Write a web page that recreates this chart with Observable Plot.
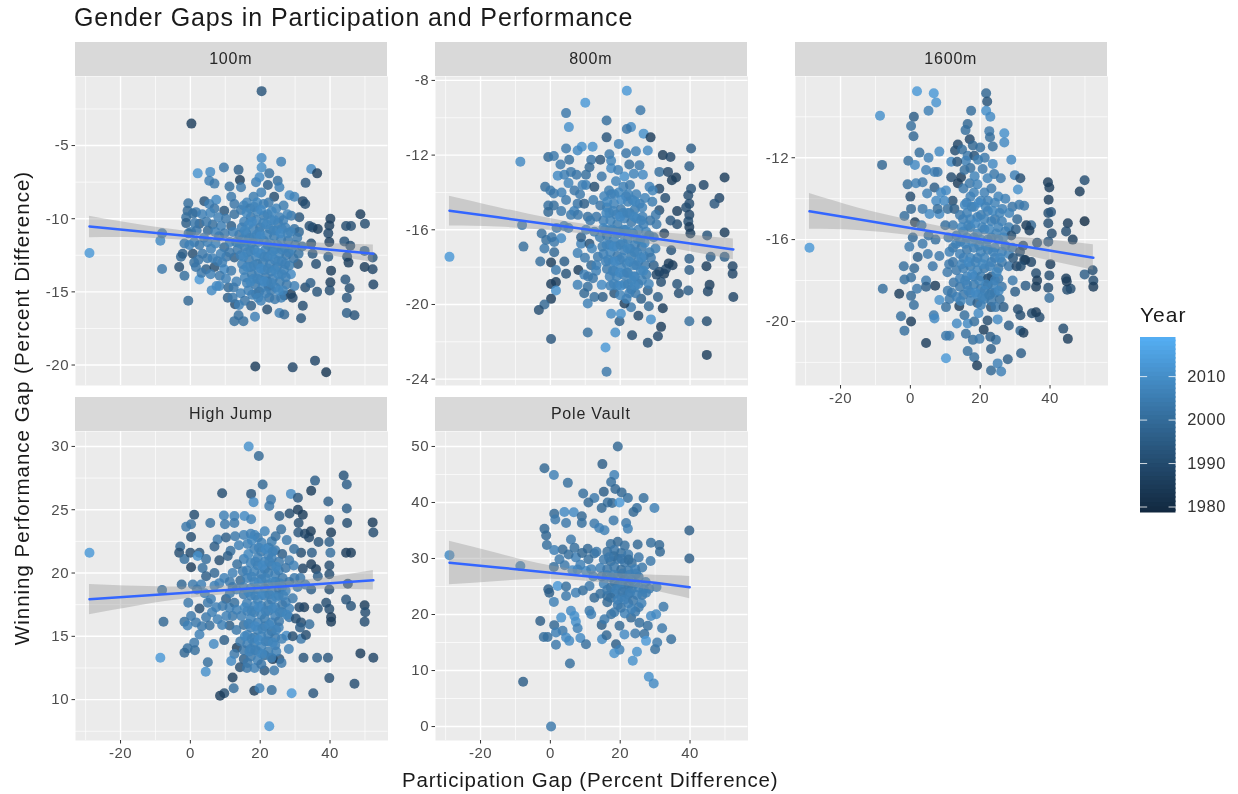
<!DOCTYPE html>
<html><head><meta charset="utf-8">
<style>
html,body{margin:0;padding:0;background:#fff;}
#chart{position:relative;width:1238px;height:794px;overflow:hidden;font-family:"Liberation Sans",Arial,sans-serif;background:#fff;filter:blur(.45px);}
#chart svg{position:absolute;background:transparent;}
.strip{position:absolute;background:#D9D9D9;color:#262626;font-size:16px;letter-spacing:.8px;text-align:center;width:312.5px;height:34px;line-height:33px;}
.t{position:absolute;white-space:nowrap;color:#1a1a1a;}
</style>
<script src="https://cdn.jsdelivr.net/npm/d3@7"></script>
<script src="https://cdn.jsdelivr.net/npm/@observablehq/plot@0.6"></script>
</head><body><div id="chart"></div>
<script>
const title="Gender Gaps in Participation and Performance";
const xLabel="Participation Gap (Percent Difference)";
const yLabel="Winning Performance Gap (Percent Difference)";
const xTicks=[-20,0,20,40], xMinor=[-30,-10,10,30,50];

// [participation gap, performance gap, year]
const pts100=[[20.4,-1.28,1992],[.3,-3.5,1985],[-28.9,-12.34,2012],[-8.1,-13.44,2003],[-8.6,-11.5,2008],[-8.1,-11,2003],[-.6,-15.6,1998],[18.6,-20.1,1985],[29.3,-20.16,1988],[35.7,-19.7,1988],[38.9,-20.5,1983],[20.4,-5.85,2008],[26,-6.1,2005],[9.6,-6.5,2002],[13.8,-6.66,1995],[2.1,-6.9,2011],[5.7,-6.8,2008],[14.2,-7.35,1985],[20.4,-6.5,2009],[22.6,-6.9,2000],[5.4,-7.4,2005],[6.9,-7.6,2003],[11.2,-7.8,2000],[34.6,-6.6,2008],[36.3,-6.9,1985],[33,-7.55,1993],[25,-7.4,2000],[22.2,-7.7,1995],[14.5,-7.85,2003],[18.8,-7.5,2005],[19.8,-7.17,2008],[25.5,-7.85,2005],[24,-8.5,1990],[28.4,-8.4,2008],[29.8,-8.5,2006],[32.2,-8.8,1988],[32.9,-9,1990],[11.7,-8.5,2003],[12.6,-9,2002],[7.4,-8.7,2008],[4,-8.8,1992],[5.4,-9,2005],[-.6,-8.95,2000],[-.8,-9.45,1998],[1.6,-9.55,2003],[9.7,-9.45,1992],[6.9,-9.3,2002],[-1.2,-9.9,2000],[.7,-9.65,2000],[-1.2,-10.3,1995],[2.6,-10.35,1995],[5,-10.8,1998],[8.8,-10.5,2005],[11.7,-10.5,1995],[12.6,-9.7,2000],[31.2,-9.9,1992],[40.1,-10,1985],[39.8,-10.47,1985],[39.5,-11,1988],[39.8,-11.6,1985],[35,-10.6,1988],[36.5,-10.7,1985],[34.1,-10.5,1990],[34.6,-11.7,1990],[35,-12.4,1993],[36,-13.1,1990],[39.5,-12.6,1995],[40.3,-13.55,1985],[40.1,-14.35,1985],[39.9,-14.9,1990],[44.1,-11.55,1992],[45.8,-11.85,1990],[44.6,-10.5,1990],[46,-10.5,1990],[48.7,-9.7,1985],[50,-10.35,1990],[49.9,-12.2,1995],[52.2,-12.65,1992],[44.9,-12.6,1990],[45.3,-13,1985],[49.9,-13.3,1985],[52.2,-13.45,1988],[52.4,-14.5,1988],[44.4,-14.15,1993],[45.6,-14.75,1990],[44.8,-15.4,1993],[44.8,-16.45,1995],[47,-16.6,1992],[32.9,-14.7,1990],[34.4,-14.4,1995],[36.3,-15,1992],[32.2,-15.95,1990],[31.7,-16.8,1992],[12.6,-17,2000],[13.8,-16.6,2000],[15.2,-17,2000],[18.5,-16.7,2005],[25.5,-16.45,2005],[26.9,-16.55,1998],[22,-16.2,1990],[17.4,-15.95,1995],[12.8,-15.85,1990],[10.7,-15.4,1995],[12.1,-15.4,2003],[6.1,-14.9,2008],[8.3,-14.6,2006],[10.9,-14.7,1998],[2.6,-14.15,2012],[-1.7,-13.9,2000],[-3.2,-13.3,1990],[-2.7,-12.6,1998],[-2.2,-12.4,1995],[.7,-12.4,1990],[1.1,-13,2000],[1.6,-13.3,2002],[4.5,-13.45,1995],[6.9,-13.3,1990],[9.7,-13.45,2008],[7.8,-12.9,2003],[3.5,-12.4,2003],[-1.7,-11.7,2003],[1.1,-11.6,2005],[5.9,-12.05,2005],[9.7,-11.95,1998],[12.6,-12.65,1995],[11.7,-13.55,2003],[28.8,-15.15,1985],[29.3,-15.4,1988],[26.9,-15.25,1990],[26,-15.4,2005],[22.6,-15.4,2002],[23.1,-14.9,2003],[20.2,-15.6,2005],[18.8,-15.15,1998],[30.8,-13.1,1992],[29.8,-14.6,2005],[28.8,-13.8,2008],
[14.5,-9.4,2003],[16.2,-8.9,2006],[18.1,-8.5,2004],[20.3,-8.2,2005],[22.4,-8.9,2003],[24.6,-9.3,2006],[26.7,-9.1,2004],[28.9,-9.8,2002],[15.4,-10.2,2005],[17.3,-9.9,2003],[19.2,-9.5,2006],[21.1,-9.8,2004],[23.2,-10.1,2005],[25.1,-10.3,2003],[27.2,-10.6,2005],[29.8,-10.7,2000],[31.1,-10.9,1998],[14,-11.1,2002],[16,-11,2006],[18,-10.7,2005],[20,-10.6,2003],[22,-11.1,2006],[24,-11.2,2004],[26,-11.4,2005],[28,-11.5,2003],[30,-11.8,2002],[32,-11.9,2000],[13.5,-12.1,2003],[15.5,-11.9,2005],[17.5,-11.7,2004],[19.5,-11.6,2006],[21.5,-12.1,2005],[23.5,-12.2,2004],[25.5,-12.4,2006],[27.5,-12.5,2003],[29.5,-12.7,2002],[14.8,-13.1,2005],[16.8,-12.8,2003],[18.8,-12.6,2006],[20.8,-13,2004],[22.8,-13.1,2005],[24.8,-13.3,2003],[26.8,-13.5,2005],[15.6,-14,2006],[17.6,-13.8,2004],[19.6,-13.6,2005],[21.6,-14,2003],[23.6,-14.1,2005],[25.6,-14.3,2004],[27.6,-14.5,2003],[16.6,-14.9,2005],[18.6,-14.5,2003],[20.6,-14.7,2006],[22.4,-14.6,2002],[13.2,-14.3,2005],[12.2,-10.9,2005],[10.3,-12.6,2002],[8.2,-11.2,2003],[6.4,-10.4,2000],[3.9,-11.3,2005],[.2,-10.9,2003],
[15.3,-9.1,2006],[17.1,-9.3,2004],[19.1,-8.9,2007],[21,-9,2005],[23.3,-9.5,2007],[25.5,-9.9,2005],[27.8,-9.7,2006],[14.7,-10.6,2005],[16.7,-10.4,2007],[18.9,-10.1,2005],[20.9,-10.3,2006],[22.8,-10.7,2004],[24.7,-10.8,2007],[26.6,-10.1,2005],[28.7,-10.9,2006],[30.6,-11.3,2003],[13.1,-11.6,2004],[15,-11.4,2006],[16.9,-11.3,2005],[19,-11.1,2007],[21,-11.5,2005],[23,-11.7,2006],[24.9,-11.8,2005],[27,-12,2004],[29,-12.1,2006],[31,-12.4,2001],[14.4,-12.5,2005],[16.3,-12.3,2006],[18.3,-12.1,2005],[20.2,-12.4,2007],[22.1,-12.6,2005],[24.2,-12.8,2006],[26.2,-12.9,2005],[28.3,-13.2,2004],[15.3,-13.5,2006],[17.2,-13.3,2005],[19.2,-13.1,2004],[21.2,-13.5,2006],[23.2,-13.6,2005],[25.2,-13.8,2007],[27.3,-14,2005],[16.2,-14.4,2005],[18.1,-14.1,2006],[20.1,-14.2,2005],[22,-14.3,2003],[24.4,-14.7,2005],[26.5,-14.9,2006],[17.7,-15.2,2005],[19.7,-15,2003],[21.6,-15.1,2005],[24.2,-15.5,2003],[1.2,-10.3,2003],[3.4,-9.7,2005],[5.7,-9.6,2006],[8,-9.9,2005],[10.2,-10,2003],[-.5,-11,2000],[1.8,-10.8,2002],[4.6,-10.2,2003],[7.1,-10.9,2005],[9.8,-11,2003],[11.3,-11.6,2005],[-.3,-11.8,2005],[2.6,-11.8,2003],[4.9,-11.6,2005],[7.2,-11.7,2006],[8.7,-12.4,2005],[11.2,-12.3,2003],[2.3,-12.8,2002],[4.9,-12.7,2003],[6.4,-12.7,2005],[9.1,-13,2005],[3.2,-13.7,2003],[5.8,-13.8,2005],[8.4,-13.9,2003],[10.2,-14.1,2005],[12.4,-14.7,2003],[14.4,-15.1,2005],[15.6,-15.6,2002],[13.9,-15.9,2005],[7.5,-14.6,2008],
[16.1,-9.6,2007],[18.3,-9.2,2006],[20.2,-9.4,2008],[22.1,-9.7,2006],[24.1,-10.1,2007],[26.2,-10.7,2006],[15.6,-10.8,2007],[17.6,-10.2,2008],[19.8,-10.9,2006],[21.8,-10.4,2007],[23.8,-10.8,2006],[25.8,-11,2008],[27.9,-11,2006],[14.2,-11.7,2006],[16.2,-11.6,2007],[18.2,-11.3,2006],[20.1,-11.2,2008],[22.2,-11.8,2006],[24.2,-12.1,2007],[26.2,-12.1,2006],[28.2,-12.3,2005],[15.2,-12.6,2007],[17.2,-12.2,2006],[19.3,-12.3,2008],[21.2,-12.6,2006],[23.2,-12.5,2007],[25.2,-12.9,2006],[27.2,-13.1,2005],[16.2,-13.3,2007],[18.2,-13.2,2006],[20.2,-13.4,2008],[22.2,-13.4,2006],[24.2,-13.5,2007],[26.2,-13.8,2006],[17.2,-14.3,2007],[19.2,-14.1,2006],[21.2,-14.3,2008],[23.2,-14.4,2006],[25.3,-14.9,2007],[19.4,-15.4,2006]];

const pts800=[[21.9,-8.55,2012],[10,-9.2,2012],[4.5,-9.75,2003],[25.8,-9.6,2003],[16.1,-10.15,2000],[5.3,-10.5,2010],[23.1,-10.5,2008],[21.9,-10.6,2002],[16.1,-11.05,1992],[26.7,-10.85,2010],[28.7,-11.05,1985],[40.3,-11.65,1995],[4.5,-11.65,2003],[9,-11.55,2010],[12.1,-11.55,2010],[7.8,-11.75,2008],[19.6,-11.4,2005],[27.9,-11.75,2008],[24.5,-11.8,2005],[21.7,-11.9,2002],[16.9,-11.95,2003],[32.2,-12,1985],[34.4,-12.1,1988],[-8.6,-12.35,2008],[-.6,-12.1,1998],[1,-12.05,2003],[2.9,-12.5,2003],[5.4,-12.25,2000],[39.8,-12.6,1995],[25.5,-12.55,2003],[22.6,-12.5,2000],[11.7,-12.25,2002],[14.3,-12.25,1993],[11.2,-12.65,1998],[17.4,-12.7,2008],[2.1,-13.1,2008],[4,-13.05,2005],[5.9,-12.9,2003],[7.5,-13.05,2002],[10.2,-13.05,2000],[14.7,-13.15,2002],[21.2,-13.15,2010],[26.5,-13.05,2008],[31.2,-12.9,2000],[33.7,-12.9,1988],[36,-13.2,1985],[34.8,-13.35,1985],[49.9,-13.2,1985],[43.9,-13.6,1988],[40.3,-13.8,1992],[-1.5,-13.7,2000],[0,-13.9,2003],[1,-14.05,2003],[6.9,-13.9,2002],[10.2,-13.6,2005],[12.6,-13.7,1990],[31.2,-13.8,1988],[32.9,-14.3,1990],[39.5,-14.15,1990],[48.4,-14.3,1988],[47,-14.6,1993],[39.8,-14.6,1990],[38.9,-14.8,1990],[31.2,-14.95,1990],[36.3,-15,1985],[4.5,-14.4,2003],[7.8,-14.6,2002],[9.7,-14.6,1995],[-.6,-14.7,2000],[1,-14.7,2000],[-.6,-15.05,1998],[3.1,-15,2003],[5.9,-15.2,2003],[10.7,-15.3,2000],[39.8,-15.2,1988],[39.5,-15.55,1990],[39.8,-15.85,1985],[40.1,-16.2,1985],[36.3,-15.7,1990],[34.4,-15.5,1993],[32.6,-16.2,1985],[44.9,-16.3,1992],[49.9,-16.15,1985],[-8.1,-15.75,2003],[-7.7,-16.9,2000],[-28.9,-17.45,2012],[-2.5,-16.2,2000],[-1.2,-16.55,2000],[1.1,-16.65,2003],[3.1,-16.45,2008],[-1.7,-17,2003],[1.1,-17.2,1998],[-2.9,-17.7,2000],[.2,-17.75,1985],[4,-17.7,1995],[1.6,-18.15,2003],[4.5,-18.35,1992],[1.6,-18.8,1985],[.2,-18.9,1985],[1.6,-19.25,2010],[.2,-19.7,1985],[-1.7,-20,1998],[-3.3,-20.3,1990],[.2,-21.85,1993],[10.7,-21.5,2000],[15.8,-22.3,2012],[18.6,-21.5,2010],[16.1,-23.6,2003],[23.4,-21.65,1990],[27.9,-22.05,1990],[30.8,-21.7,1988],[31.7,-21.2,1985],[28.8,-20.8,2010],[25.2,-20.6,1988],[19.8,-20.9,1995],[17.4,-20.5,2008],[20.2,-20.5,2010],[32.2,-20.2,1985],[28.2,-20.1,1998],[23.1,-20.15,2003],[21.2,-19.95,1985],[39.8,-20.9,2000],[44.8,-20.9,1990],[44.8,-22.7,1985],[52.4,-19.6,1988],[52.2,-18.35,1988],[52.2,-17.95,1988],[49.9,-17.45,1995],[45.9,-17.45,1995],[44.7,-17.95,1985],[45.6,-18.95,1985],[45.1,-19.3,1988],[39.5,-19.25,1995],[39.8,-18.15,1995],[39.8,-17.55,1995],[36.8,-19.4,1990],[36.3,-18.9,1992],[34.6,-17.1,1992],[35,-17.9,1985],[32.6,-18.35,1985],[31.2,-18.25,1988],[30.8,-19.6,1995],[27.9,-19.25,1995],[26,-19.7,1995],[10.7,-19.95,2005],[12.6,-19.6,2000],[15,-19.6,1995],[18.3,-19.4,1992],[7.8,-18.95,2005],[10.7,-19.05,2000],[14.7,-18.95,2008],[9.7,-19.4,1998],[8,-18.15,1985],[11.7,-17.9,1998],[7.8,-17.25,2005],[8.8,-16.75,2005],[8.8,-16.4,1995],[11.2,-16.75,1992],[13.6,-17.45,2003],
[16.8,-13.9,2004],[18.8,-13.4,2006],[20.9,-13.7,2005],[22.8,-13.6,2003],[24.6,-14.1,2005],[27.1,-14.3,2006],[29.2,-14.5,2004],[14.3,-14.7,2002],[16.2,-14.8,2004],[18.2,-14.6,2006],[20.2,-14.9,2003],[22.2,-14.5,2005],[24.2,-14.9,2004],[26.4,-15.3,2005],[28.6,-15.5,2002],[30.4,-15.7,2003],[15.2,-15.5,2005],[17.2,-15.5,2006],[19.2,-15.7,2004],[21.2,-15.4,2005],[23.2,-15.6,2003],[25.2,-16,2005],[27.4,-16.1,2006],[29.6,-16.4,2002],[14.2,-16.4,2004],[16.2,-16.3,2003],[18.2,-16.5,2005],[20.2,-16.2,2006],[22.2,-16.5,2004],[24.2,-16.8,2005],[26.2,-16.9,2003],[28.4,-17.2,2004],[15.2,-17.3,2005],[17.2,-17.2,2006],[19.2,-17.4,2003],[21.2,-17.1,2005],[23.2,-17.4,2004],[25.2,-17.7,2005],[27.2,-17.9,2003],[29.6,-17.9,1995],[16.2,-18.1,2003],[18.2,-18.2,2005],[20.2,-18,2006],[22.2,-18.3,2004],[24.2,-18.5,2005],[26.2,-18.7,2006],[17.2,-19,2005],[19.2,-19,2006],[21.2,-18.9,2004],[23.2,-19.2,2003],[21.8,-19.7,2005],[24.4,-19.4,2003],[28.2,-18.9,2006],[13.2,-15.3,2002],[12.3,-14.4,2004],[13.1,-18.2,2005],[12.2,-18.6,2002],[9.9,-17.5,2003],[30.1,-17,2004],
[15.4,-14.2,2006],[17.4,-14.1,2005],[19.6,-14,2007],[21.7,-14.2,2005],[23.5,-14.4,2006],[25.6,-14.6,2005],[16.9,-15.1,2006],[18.9,-15.2,2005],[20.8,-15.1,2006],[22.7,-15.1,2005],[24.7,-15.4,2006],[26.7,-15.7,2005],[28.3,-16.3,2004],[15.6,-16,2005],[17.8,-16,2006],[19.7,-16.1,2005],[21.6,-16,2007],[23.7,-16.2,2005],[25.8,-16.5,2006],[14.9,-16.9,2004],[16.9,-16.8,2006],[18.9,-16.9,2005],[20.7,-16.7,2006],[22.8,-17,2005],[24.8,-17.2,2006],[26.8,-17.4,2005],[28.8,-17.5,2003],[15.9,-17.7,2005],[17.9,-17.7,2006],[19.9,-17.6,2005],[21.9,-17.8,2006],[23.9,-17.9,2005],[25.9,-18.2,2006],[17,-18.5,2005],[19,-18.5,2006],[21,-18.4,2005],[23.3,-18.7,2006],[25.2,-18.9,2005],[27.5,-18.4,2004],[20,-19.5,2006],[22.6,-19.4,2005],[12.6,-16.1,2004],[11.9,-17,2006],[13.2,-17.9,2005],[10.2,-16,2005],[11.4,-15.5,2003],[9.7,-18.4,2005],[10.8,-18.5,2003],[5.2,-15.9,2003],[3.9,-15.8,2005],[6.8,-15,2005],[8.5,-14.1,2003],[9.2,-13.6,2005],[3.2,-14,2005],[5.2,-13.5,2006],[7.9,-15.2,2003],[1.8,-15.9,2003],[.4,-16.4,2002],[30.2,-15.2,2003],[29.3,-13.9,2006],[28.4,-13.7,2005],[33.1,-18.1,1988],[31.7,-18.8,1990],[30.4,-18.4,1988],[33.9,-17.8,1985],[17.4,-12.3,2006],[19.4,-12.8,2005],[23.9,-13,2006],
[16.3,-14.5,2007],[18.3,-14.1,2006],[20.3,-14.4,2008],[22.3,-14.1,2006],[24.3,-14.5,2007],[26.3,-14.8,2006],[16,-15.1,2007],[18,-15,2006],[20,-15.3,2008],[22,-15.1,2006],[24,-15.3,2007],[26,-15.5,2006],[15.2,-15.9,2007],[17.1,-16,2006],[19.1,-16.2,2008],[21.1,-16,2006],[23,-16.1,2007],[25,-16.5,2006],[27,-16.7,2007],[16.1,-16.8,2006],[18.1,-16.9,2008],[20.1,-16.8,2006],[22.1,-17,2007],[24.1,-17.2,2006],[26.1,-17.5,2007],[16.6,-17.6,2006],[18.6,-17.7,2008],[20.6,-17.5,2006],[22.6,-17.7,2007],[24.6,-17.9,2006],[26.6,-18.2,2007],[17.9,-18.2,2006],[19.9,-18.3,2008],[21.9,-18.3,2006],[23.9,-18.5,2007],[18.2,-18.9,2006],[20.2,-19,2008],[22.2,-18.9,2006],[24.2,-19,2007]];

const pts1600=[[1.9,-8.75,2012],[6.7,-8.85,2012],[7.4,-9.3,2011],[5.2,-9.7,2005],[-8.7,-9.95,2010],[1,-10,1995],[.2,-10.45,2000],[.9,-10.95,1998],[21.7,-8.85,1998],[22,-9.25,1992],[17.4,-9.7,2000],[21.7,-9.7,2010],[22.9,-10,2008],[16.4,-10.35,1998],[15.8,-10.65,2000],[22.6,-10.7,2003],[26.9,-10.8,2010],[22.8,-11,2000],[17,-11.1,1988],[17.9,-11.4,1998],[13.6,-11.35,1988],[26.9,-11.25,2008],[23.6,-11.45,2000],[12.8,-11.65,1990],[2.6,-11.75,2000],[5.2,-12,2005],[8.3,-11.7,2008],[-.6,-12.15,2000],[1.3,-12.35,2008],[-8.1,-12.35,1998],[16.4,-11.9,2003],[18.3,-11.9,1992],[15.9,-12.15,2005],[11.7,-12.2,2008],[4.5,-12.6,2005],[6.9,-12.7,2005],[7.8,-12.7,2003],[-.8,-13.3,2000],[1.6,-13.25,2005],[3.5,-13.2,2003],[6.9,-13.45,1995],[4.8,-13.75,2005],[0,-13.9,1990],[7.4,-14.1,2008],[.2,-14.5,1998],[3.5,-14.5,2003],[-1.7,-14.85,2000],[1.3,-15.15,1985],[5.5,-14.75,2008],[8.3,-14.75,2008],[11.7,-12.95,1990],[13.6,-13.25,1985],[14.5,-12.95,1985],[17,-13.25,2003],[20.7,-12.55,2003],[23.6,-12.3,2008],[28.9,-12.1,2008],[24,-12.8,2003],[25.9,-13,2003],[29.9,-12.85,2005],[31.5,-13,1990],[30.8,-13.55,2010],[39.4,-13.2,1985],[39.8,-13.45,1985],[39.6,-14.05,1985],[49.9,-13.1,1990],[48.5,-13.65,1985],[49.9,-15.1,1980],[45.1,-15.2,1985],[44.6,-15.6,1990],[46.5,-16,1985],[39.5,-14.7,1990],[40.3,-14.65,1993],[39.5,-15.2,1990],[40.5,-15.7,1990],[39.5,-16.1,1993],[32.6,-14.35,2003],[34.6,-15.3,1998],[34.1,-15.55,1985],[36.3,-16.15,1990],[10.2,-13.6,2008],[8.8,-13.7,2008],[12.1,-14.1,1990],[7.8,-14.5,2000],[10.7,-14.5,2000],[12.6,-14.5,1995],[10,-15.3,2000],[-28.9,-16.4,2012],[.7,-15.9,1998],[-.3,-16.35,2003],[3.5,-16.2,2003],[5,-16.7,2003],[2.1,-16.85,1995],[-1.9,-17.3,2000],[1.1,-17.4,1998],[-1.7,-17.95,2000],[.2,-17.85,2000],[4.5,-18,2003],[7.1,-18.25,1985],[-7.9,-18.4,2000],[-3.2,-18.65,1985],[.2,-18.75,1998],[1.9,-18.4,2003],[4.5,-18.3,1995],[1,-19.2,2000],[-2.7,-19.75,2000],[.2,-20,1985],[-1.7,-20.45,2000],[4.5,-21.05,1985],[6.7,-19.7,2003],[6.9,-19.85,2008],[8.3,-18.95,2010],[10.7,-18.5,2003],[11.2,-18.9,2003],[10.2,-19.3,2000],[14,-19.25,1985],[15.5,-19.7,2000],[10.2,-20.7,2003],[11.2,-20.7,2003],[10.2,-21.8,2012],[13.3,-20.1,2008],[16.4,-20.1,2008],[15.9,-20.6,2000],[17.9,-20.9,2000],[19.8,-20.85,2003],[16.4,-21.45,2000],[18.3,-21.75,2000],[19.1,-22.15,1985],[23.1,-22.4,1998],[25,-22.05,2005],[26,-22.45,2005],[27.9,-21.85,1995],[31.7,-21.55,1995],[23.1,-21.35,1995],[24.5,-20.9,2000],[22.9,-20.75,1995],[21,-20.4,1985],[28.2,-20.2,1995],[31.5,-20.45,1998],[32.4,-20.55,1985],[25,-19.9,2008],[22.1,-19.95,1990],[18.3,-20,2000],[19.5,-19.6,2008],[30.8,-19.4,1990],[31.5,-19.7,1990],[34.8,-19.6,1990],[37,-19.8,1990],[36,-19.55,1985],[43.8,-20.35,1990],[45.1,-20.85,1985],[39.8,-18.85,2000],[39.5,-18.35,1990],[44.9,-18.45,1990],[45.9,-18.4,1990],[44.6,-17.9,1985],[44.8,-18.05,1985],[49.9,-17.7,1995],[52.2,-17.5,1990],[52.4,-18,1990],[52.4,-18.3,1985],[39.8,-17.75,1990],[40.1,-17.2,1985],[36,-17.65,1990],[36.3,-18,1985],[36,-18.3,1985],[33,-18.25,1995],[30,-18.55,1995],[34.6,-17.1,1988],[32.6,-17,1988],[23.1,-19.3,1990],
[15.2,-13.5,2003],[17.2,-13.9,2005],[19.2,-13.3,2006],[21.2,-13.7,2005],[23.2,-13.5,2003],[25.2,-13.9,2006],[27.2,-14,2005],[29.2,-14.4,2002],[14.2,-14.8,2003],[16.2,-14.7,2005],[18.2,-14.4,2006],[20.2,-14.8,2004],[22.2,-14.6,2005],[24.2,-15,2003],[26.2,-15.1,2005],[28.2,-15.4,2004],[30.2,-15.5,1995],[13.2,-15.8,2003],[15.2,-15.6,2005],[17.2,-15.4,2004],[19.2,-15.7,2006],[21.2,-15.5,2005],[23.2,-15.9,2003],[25.2,-16,2005],[27.2,-16.3,2004],[29.2,-16.4,2003],[31.4,-16.6,1990],[14.2,-16.7,2005],[16.2,-16.5,2003],[18.2,-16.4,2005],[20.2,-16.6,2006],[22.2,-16.5,2004],[24.2,-16.9,2005],[26.2,-17.1,2003],[28.2,-17.3,2002],[30.4,-17.3,1988],[13.2,-17.5,2003],[15.2,-17.4,2005],[17.2,-17.3,2004],[19.2,-17.5,2006],[21.2,-17.4,2003],[23.2,-17.8,1995],[25.2,-17.9,2002],[14.2,-18.3,2003],[16.2,-18.2,2005],[18.2,-18.2,2004],[20.2,-18.4,2003],[22.2,-18.2,1988],[24.2,-18.6,2005],[26.2,-18.3,2002],[17.2,-19,2005],[19.2,-19.1,1995],[21.2,-18.9,2004],[23.2,-19,2003],[25.6,-18.9,2000],[12.2,-16.4,2002],[11.1,-17.2,2003],[12.4,-18.1,2002],
[15.5,-12.6,2000],[13.4,-12.2,1992],[14.8,-11.6,2000],[17.2,-12.5,2000],[18.4,-12.9,2006],[20,-11.5,2000],[21.3,-12,2003],[22.1,-13,2006],[19.4,-12.1,2004],[16.1,-14.2,2005],[18.2,-13.7,2006],[20.2,-14.1,2005],[22.2,-14.1,2005],[24.2,-14.2,2006],[26.3,-14.5,2005],[28.3,-14.7,2006],[15.1,-15,2005],[17.2,-15,2006],[19.2,-14.9,2005],[21.2,-15,2006],[23.2,-15.1,2005],[25.2,-15.4,2006],[27.2,-15.6,2005],[14.3,-16.1,2005],[16.2,-15.9,2006],[18.2,-15.9,2005],[20.2,-16,2007],[22.2,-16,2005],[24.2,-16.4,2006],[26.2,-16.6,2005],[28.2,-16.7,2006],[15.2,-16.9,2005],[17.2,-16.9,2006],[19.2,-16.9,2005],[21.2,-16.9,2006],[23.2,-17.1,2005],[25.2,-17.4,2003],[14.2,-17.9,2005],[16.2,-17.8,2006],[18.2,-17.8,2005],[20.2,-17.8,2004],[22.2,-17.9,1990],[24.2,-18,2005],[15.2,-18.7,2003],[17.2,-18.6,2005],[19.2,-18.7,2006],[21.2,-18.5,2005],[23.2,-18.6,2003],[12.2,-15.3,2003],[10.9,-15.9,2003],[11.2,-16.6,2005],[12.2,-17.1,2002],[10.6,-17.6,2003],[11.9,-18.6,2003],[13.1,-16.2,2005],[13.3,-18.8,2005],[20.2,-19.2,2005],[24.4,-19.3,2003],[28.9,-15.8,1990],[29.4,-16.9,1992],[30.6,-15,1998],[31.2,-14.3,2003],[32.3,-16.3,1988],[33.2,-15.3,1985],[32.9,-17,1985],[31.6,-17.3,1990],[29.3,-18,2003],[26.7,-19.3,1995],[9.7,-14.1,2008],[5.2,-15.8,2000],[3.2,-15.3,2003],[7.2,-16,2000],[8.3,-16.8,2003],[6.4,-17.3,2002],
[15.6,-14.3,2007],[17.6,-14.4,2006],[19.6,-14.2,2008],[21.6,-14.4,2006],[23.6,-14.6,2007],[25.6,-14.7,2006],[14.7,-15.4,2007],[16.6,-15.3,2006],[18.6,-15.2,2008],[20.6,-15.4,2006],[22.6,-15.5,2007],[24.6,-15.7,2006],[26.6,-15.9,2007],[15.7,-16.2,2006],[17.7,-16.1,2008],[19.7,-16.3,2006],[21.7,-16.3,2007],[23.7,-16.6,2006],[25.7,-16.9,2007],[14.7,-17.2,2006],[16.7,-17.1,2008],[18.7,-17.1,2006],[20.7,-17.2,2007],[22.7,-17.3,2006],[24.7,-17.6,2007],[15.7,-18,2006],[17.7,-17.7,2008],[19.7,-18,2006],[21.7,-18.2,2007],[23.7,-18.2,2006],[25.3,-18.5,2007],[16.6,-18.5,2006],[18.6,-18.6,2008],[20.6,-18.8,2006],[22.6,-18.7,2004],[14.4,-19,2006]];

const ptsHigh=[[-28.9,21.6,2012],[-8.6,13.3,2012],[-8.1,18.65,2000],[-7.7,16.15,1998],[16.7,30,2010],[19.6,29.25,1998],[20.7,27,1998],[35.7,27.3,1995],[34.6,26.5,1985],[43.9,27.7,1992],[44.8,27,1995],[9.1,26.3,1990],[17.4,26.25,1992],[28.8,26.25,2008],[30.8,25.95,1993],[23.1,25.8,2003],[18.1,25.6,2008],[39.5,25.65,1995],[44.8,25.1,1995],[1.1,24.6,1990],[.2,23.85,2000],[-1.2,23.65,2003],[5.7,23.95,2000],[9.6,24.55,2005],[12.6,24.5,2005],[9.9,23.85,2003],[12.6,23.95,2003],[15.5,24.5,2008],[17.4,24.25,2005],[22.6,25.3,2003],[25.5,24.5,1995],[28.4,24.7,1990],[30.8,25,1985],[32.2,24.6,1985],[31,23.95,1990],[26,23.45,2000],[39.8,24.2,1995],[44.9,23.95,1990],[52.2,24,1985],[52.4,23.2,1990],[40.3,23.2,1985],[30.9,23.2,1993],[34,22.8,1988],[36.7,22.45,1992],[39.8,22.45,1995],[.2,22.85,1990],[-2.9,22.1,1998],[-3.2,21.6,1990],[-1.7,21.1,2000],[0,21.6,1990],[2.6,21.6,1992],[2.1,21.35,2010],[7.8,22.65,2003],[10.2,22.8,1995],[6.9,22.1,1995],[11.5,21.75,2000],[10.7,21.35,1995],[8.3,21,1990],[4.5,21.1,2000],[.2,20.45,1985],[3.5,20.4,2000],[6.9,20,1998],[4.5,19.75,1995],[9.7,19.6,2005],[12.1,20,2005],[15,20.15,2003],[31.7,21.6,1990],[34.8,21.6,1995],[40.1,21.6,2000],[44.6,21.6,1985],[46,21.6,1985],[32.2,20.35,1988],[34.6,20.7,1985],[36,20.3,1985],[39.8,20.6,1990],[39.8,19.9,1990],[36.5,19.75,1995],[45.1,19.15,1990],[39.8,18.7,1990],[34.6,18.7,1995],[31.5,19.6,2003],[29.8,19.6,2003],[-2.5,19.1,1998],[.7,19.1,2003],[3.1,19.1,2005],[6.9,19,2005],[-.6,17.65,2003],[2.6,17.2,1990],[5.9,17.95,2005],[5,17.65,2003],[10.2,17.95,1995],[11.2,17.25,2005],[12.6,17.65,2000],[-1.7,16.15,2000],[.2,16.6,2003],[1.6,16.1,2003],[-.8,15.85,2005],[4.5,16.5,2003],[5.5,15.85,2000],[7.8,16.35,2005],[11.2,15.85,1995],[12.1,16.6,2003],[2.6,15.15,2005],[1.1,14.5,2003],[-.8,14.05,2000],[-1.7,13.7,1998],[1.3,13.9,2000],[6.7,14.4,2008],[9.7,14.7,1995],[5,12.95,2000],[4.4,12.2,2010],[13.3,14.1,1985],[12.6,13.6,2003],[11.7,13.05,2008],[14.2,12.55,1990],[12.1,11.75,1985],[12.4,10.9,2000],[9.7,10.5,1990],[8.5,10.3,1985],[18.3,10.7,1985],[19.8,10.9,2005],[23.3,10.75,2000],[29,10.5,2012],[35.2,10.5,1993],[39.8,11.7,1990],[47,11.25,1990],[48.7,13.65,1985],[52.4,13.3,1988],[32.4,13.3,1992],[36.3,13.3,1995],[39.4,13.3,1993],[21.2,12.3,1993],[24,12.3,2003],[25.5,13.2,1993],[23.6,13.2,1985],[28.2,14,2005],[27.5,15.05,2008],[31.7,14.8,2003],[33.1,15.1,1990],[29.3,15,1990],[34.1,15.95,2000],[31.7,16.1,1990],[32.6,17.3,1985],[31.2,17.3,1988],[36.5,17.2,1992],[38.9,17.65,1990],[39.8,17.15,1990],[40.3,16.5,1985],[40.3,16.15,1985],[44.6,17.9,1993],[46,17.4,1992],[49.9,17.45,1985],[50.1,16.9,1990],[49.9,16.15,1990],[22.6,7.9,2012],
[17.3,23.1,2005],[19.3,22.8,2003],[21.3,23.3,2006],[23.3,22.5,2004],[18.3,21.9,2005],[20.3,21.7,2003],[22.3,21.4,2005],[24.3,21.8,2003],[26.3,21.5,1995],[28.3,21,2003],[15.3,21.1,2005],[17.3,20.8,2006],[19.3,20.6,2004],[21.3,20.3,2005],[23.3,20.6,2003],[25.3,20.2,2005],[27.3,20.4,2002],[14.3,19.4,1998],[16.3,19.6,2005],[18.3,19.3,2006],[20.3,19.5,2004],[22.3,19.1,2005],[24.3,19.3,2003],[26.3,18.9,2005],[28.3,19.3,2002],[15.3,18.3,2003],[17.3,18.2,2005],[19.3,17.9,2006],[21.3,18.2,2004],[23.3,17.9,2005],[25.3,18.2,2003],[27.3,17.7,2005],[29.3,18,2003],[16.3,17,2005],[18.3,16.9,2004],[20.3,16.7,2006],[22.3,17,2003],[24.3,16.6,2005],[26.3,16.9,2004],[28.3,16.5,2002],[15.3,15.9,2000],[17.3,15.7,2005],[19.3,15.5,2006],[21.3,15.8,2003],[23.3,15.4,1998],[25.3,15.7,2005],[14.3,14.6,2003],[16.3,14.4,2005],[18.3,14.5,2004],[20.3,14.2,2006],[22.3,14.6,2003],[24.3,14.3,2005],[15.3,13.2,1995],[17.3,13.4,2003],[19.3,13.1,2005],[21.3,13.5,1998],[26.1,12.9,2003],[16.2,12.5,2002],
[16.4,22.3,2005],[18.4,23,2006],[20.4,22.4,2005],[22.4,22,2004],[24.4,22.9,2000],[19.3,21.2,2005],[21.3,20.9,2006],[23.3,21.2,2005],[25.4,20.9,2003],[16.2,20.2,2005],[18.3,20.1,2006],[20.3,19.9,2005],[22.3,20,2004],[24.3,19.9,2005],[26.4,19.6,2003],[15.2,18.9,2005],[17.3,18.8,2006],[19.3,18.7,2005],[21.3,18.8,2003],[23.3,18.6,2005],[25.4,18.7,2002],[27.3,18.6,2006],[16.2,17.6,2005],[18.3,17.4,2006],[20.3,17.4,2005],[22.3,17.5,2004],[24.3,17.3,2005],[26.3,17.5,2003],[28.3,17.2,2005],[14.6,16.6,2005],[17.3,16.4,2006],[19.3,16.1,2005],[21.3,16.4,2004],[23.3,16.1,2005],[25.4,16.2,2003],[16.3,15.1,2005],[18.3,14.9,2003],[20.3,15,2006],[22.3,15.1,2005],[24.3,14.9,2003],[26.2,14.8,2005],[15.3,13.9,2002],[17.3,14,2005],[19.3,13.8,2006],[22.3,13.8,2004],[24.6,13.8,2005],[16.4,12.9,2003],[18.4,12.5,2005],[20.3,12.8,2002],[13.2,18.7,2005],[12.1,18.9,2003],[11.3,18.4,2003],[13.3,17.1,2005],[13.2,15.5,2003],[10.3,16.6,2005],[9.1,15.9,2005],[9.2,17.4,2003],[7.4,17.3,2005],[6.2,16.9,2005],[3.3,15.8,2003],[4.1,18.4,2005],[1.9,18.7,2003],[8.3,19.2,2005],[11.3,19.3,2003],[13.4,20.7,2000],[13.9,22.2,2005],[15.3,23,2005],[12.8,22.9,2003],[29.6,20.6,2005],[30.7,18.9,2003],[30.2,16.4,1990],[31.4,15.7,1995],[29.7,21.9,2000],[27.6,22.6,2003],[32.9,19.1,2003],[32.8,23.1,1988],[34.5,23.3,1985],
[17.6,22.6,2007],[19.6,22,2006],[21.6,21.9,2008],[23.6,21.7,2006],[16.6,21.5,2007],[18.6,20.9,2006],[20.6,20.6,2008],[22.6,20.9,2006],[24.6,20.5,2007],[17.6,19.7,2006],[19.6,19.2,2008],[21.6,19.6,2006],[23.6,19.3,2007],[25.6,19.2,2006],[16.6,18.5,2007],[18.6,18.2,2006],[20.6,18.3,2008],[22.6,18.3,2006],[24.6,18.1,2007],[26.6,18.2,2006],[15.6,17.3,2007],[17.6,17,2006],[19.6,17.3,2008],[21.6,17,2006],[23.6,17.2,2007],[25.6,16.9,2006],[27.6,16.7,2007],[16.6,16,2006],[18.6,15.8,2008],[20.6,15.6,2006],[22.6,15.9,2007],[24.6,15.5,2006],[15.6,15,2007],[17.6,14.8,2006],[19.6,14.7,2008],[21.6,14.6,2006],[23.6,14.5,2007],[16.9,13.8,2006],[18.6,13.9,2005],[20.6,13.6,2007],[23.2,13.3,2005]];

const ptsPole=[[19.3,50,1998],[14.9,46.85,1995],[-1.7,46.1,1998],[1,44.9,2005],[5,43.5,2000],[18.3,44.9,2005],[17.4,43.65,2000],[18.6,42.4,1998],[15.3,41.9,1995],[20.4,41.8,1998],[9.4,41.6,2000],[12.6,40.8,2003],[10.9,40,1998],[22.2,40.8,2000],[26.7,40.8,2000],[16.4,40,2000],[17.7,39.9,1998],[19.8,40,2012],[14.7,39,1998],[24.8,39,2000],[23.8,38.3,1998],[29.8,39,2005],[1.1,38,1998],[4,38.3,2008],[6.7,38.25,2008],[9,37.55,1998],[1.4,36.95,2003],[4.5,36.35,2003],[9,36.35,2000],[12.6,36.25,2003],[18.1,36.8,2003],[21.7,36.35,2003],[15.5,35.05,2005],[14,35.45,2005],[22.2,35.3,2005],[39.8,35,1995],[-1.7,35.3,1998],[-1.2,34.1,1998],[-1,32.4,2000],[5.9,33.4,2003],[3.5,31.6,1998],[6.9,31.9,2000],[1.1,31.5,2005],[2.6,29.85,2003],[10.7,31.75,1998],[12.6,30.9,2000],[10.9,29.85,2000],[-28.9,30.6,2008],[39.8,30,1995],[-8.6,28.65,2005],[1,28.5,2000],[7.8,28.05,2005],[10.2,27.75,2008],[28.8,32.8,2000],[31.2,32.4,1998],[31.4,31.2,1998],[25,32.5,1998],[28.7,29.55,2003],[-.6,24.5,1995],[2.1,25.1,2012],[4.5,25,2000],[-.3,23.9,1995],[1,22.25,2005],[4.5,23.3,2003],[7.3,23.9,2005],[9.3,24.3,2000],[11.2,25.1,2003],[12.6,23,1998],[32.4,21.4,2003],[5.9,20.65,2008],[11.2,20.65,2003],[3.1,19.45,2010],[6.9,19.75,2010],[11.7,20.05,2005],[-2.9,18.85,1995],[1.1,18.1,1998],[7.3,18.7,2010],[7.8,17.55,2005],[3.5,17.1,2003],[1.6,16.8,2005],[-.8,16,2000],[-1.9,16,2000],[4.5,15.9,2008],[5.4,15.3,2008],[1.6,14.6,2003],[8.6,15.8,2008],[10.2,14.7,2000],[14.7,18.15,1995],[14.8,15.6,2008],[16.1,16.3,1998],[18.8,14.7,1995],[19.8,13.7,2005],[18.3,13.1,2010],[24.8,13.35,2010],[23.6,11.75,2010],[5.6,11.25,2000],[-7.8,8,1995],[.2,0,2003],[28.2,8.9,2010],[29.6,7.7,2008],[34.6,15.6,2000],[32,17.55,2003],[30.3,20.05,2008],[28.8,19.75,2008],[27.9,18,2000],[25.5,18.55,2000],[24.3,16.6,2003],[26.9,16.5,2000],[27.4,15.3,2012],[30,13.8,2000],[30.6,15,2003],[19.8,18,1998],[21.2,16.45,2008],[17.4,20.05,2000],[15.5,19.15,2003],[23.1,19.45,1998],
[17.3,32.6,2000],[19.3,33,1998],[21.3,32.3,2000],[16.3,31.2,2000],[18.3,31.5,2002],[20.3,31,2000],[22.3,30.7,2003],[15.3,29.8,2003],[17.3,29.5,2000],[19.3,29.9,2002],[21.3,29.3,2003],[23.3,29.2,2000],[25.3,30.2,2002],[14.3,28.3,2005],[16.3,28.1,2002],[18.3,28.5,2003],[20.3,28,2000],[22.3,27.8,2003],[24.3,28.1,2005],[17.3,26.6,2003],[19.3,26.9,2005],[21.3,26.3,2002],[23.3,26.2,2005],[25.3,26.7,2003],[27.3,25.8,2005],[15.3,25.5,2005],[17.3,24.8,2000],[19.3,25.2,2003],[21.3,24.7,2005],[23.3,24.6,2002],[25.3,24.8,2005],[28.3,24.6,2003],[30.4,24.9,2005],[14.3,23.7,2000],[16.3,23.3,2000],[18.3,23.7,2003],[20.3,23.1,2005],[22.3,23.6,2003],[26.3,23.5,2002],[16.3,22.2,1998],[19.3,21.7,2003],[22.3,22,2005],[25.3,21.3,2003],[18.3,20.4,2003],[21.3,20.2,2005],[24.3,20.5,2003],
[18.2,30.4,2000],[20.4,29.9,2002],[22.4,29.8,2000],[16.8,30.2,2003],[18.1,27.1,2005],[20.6,27.3,2003],[22.7,27.1,2005],[24.6,27.3,2005],[26.3,28.4,2003],[16.2,27,2005],[18.4,25.8,2003],[20.4,25.4,2005],[22.4,25.2,2003],[24.4,25.6,2005],[26.7,24.5,2005],[16.3,24.4,2003],[18.8,24.4,2005],[20.7,24,2003],[22.8,23.9,2005],[24.8,23.5,2005],[27.4,23.9,2005],[17.3,23,2000],[19.3,22.6,2005],[21.3,22.7,2005],[23.7,22.5,2003],[26.1,22,2005],[20.2,21.2,2003],[23.2,21,2005],[14.7,26.8,2003],[7.3,30.2,2005],[5.2,30.7,2000],[4.1,28.8,2003],[8.6,28.9,2005],[6.3,27.9,2008],[11.7,28.1,2005],[13.2,31.2,2003],[12.3,26.8,2005],[9.1,31,1998]];

// fitted line end points and confidence band
const fit={
 "100m":{x:[-28.9,-15,0,17,35,52.4],y:[-10.53,-10.85,-11.2,-11.59,-12,-12.4],lo:[-11.3,-11.3,-11.5,-11.8,-12.35,-13],hi:[-9.83,-10.4,-10.9,-11.35,-11.65,-11.8]},
 "800m":{x:[-28.9,-15,0,17,35,52.4],y:[-14.98,-15.33,-15.72,-16.15,-16.6,-17.05],lo:[-15.8,-15.85,-16.05,-16.4,-17,-17.6],hi:[-14.2,-14.8,-15.4,-15.9,-16.2,-16.5]},
 "1600m":{x:[-28.9,-15,0,17,35,52.4],y:[-14.62,-15.01,-15.43,-15.9,-16.4,-16.89],lo:[-15.5,-15.55,-15.8,-16.2,-16.85,-17.5],hi:[-13.75,-14.45,-15.05,-15.6,-15.95,-16.25]},
 "High Jump":{x:[-28.9,-15,0,17,35,52.4],y:[17.93,18.18,18.46,18.77,19.1,19.42],lo:[16.7,17.4,18,18.45,18.7,18.66],hi:[19.1,18.95,18.9,19.1,19.5,20.2]},
 "Pole Vault":{x:[-28.9,-15,0,17,30,39.9],y:[29.24,28.4,27.47,26.44,25.65,24.85],lo:[25.3,25.9,26.3,25.5,24.2,22.8],hi:[33.1,30.9,28.7,27.4,27,26.8]}
};
const yearColor={type:"linear",domain:[1979,2019],range:["#132B43","#56B1F7"],interpolate:d3.interpolateLab};
const legendYears=d3.range(1978,2020), legendTicks=[1980,1990,2000,2010];

const root=document.getElementById("chart");
function txt(s,css){const d=document.createElement("div");d.className="t";d.textContent=s;d.style.cssText=css;root.appendChild(d);return d;}
const PW=312.5,PH=309,ML=46,MT=2,MB=30,FS=15;
function panel(name,pts,yDomain,yTicks,yMinor,left,top,showX){
  const strip=document.createElement("div");strip.className="strip";strip.textContent=name;
  strip.style.left=left+"px";strip.style.top=(top-34)+"px";root.appendChild(strip);
  const f=fit[name];const rows=f.x.map((x,i)=>({x,y:f.y[i],lo:f.lo[i],hi:f.hi[i]}));
  const marks=[
    Plot.frame({fill:"#EBEBEB",stroke:"none"}),
    Plot.ruleX(xMinor,{stroke:"#fff",strokeWidth:.7}),
    Plot.ruleY(yMinor,{stroke:"#fff",strokeWidth:.7}),
    Plot.ruleX(xTicks,{stroke:"#fff",strokeWidth:1.4}),
    Plot.ruleY(yTicks,{stroke:"#fff",strokeWidth:1.4}),
    Plot.axisY(yTicks,{anchor:"left",label:null,tickSize:3.5,tickPadding:3,stroke:"#333",fill:"#4D4D4D",fontSize:FS,tickFormat:String}),
    Plot.dot(pts,{x:d=>d[0],y:d=>d[1],fill:d=>d[2],r:5,fillOpacity:.82,stroke:"none"}),
    Plot.areaY(rows,{x:"x",y1:"lo",y2:"hi",fill:"#999",fillOpacity:.4,curve:"natural"}),
    Plot.line(rows,{x:"x",y:"y",stroke:"#3366FF",strokeWidth:2.5})
  ];
  if(showX) marks.push(Plot.axisX(xTicks,{anchor:"bottom",label:null,tickSize:3.5,tickPadding:3,stroke:"#333",fill:"#4D4D4D",fontSize:FS,tickFormat:String}));
  const svg=Plot.plot({width:PW+ML,height:PH+MT+MB,marginLeft:ML,marginRight:0,marginTop:MT,marginBottom:MB,
    style:{fontFamily:"Liberation Sans",background:"transparent",overflow:"visible",letterSpacing:".5px"},
    x:{domain:[-32.9,56.6],axis:null},y:{domain:yDomain,axis:null},color:yearColor,marks});
  svg.style.left=(left-ML)+"px";svg.style.top=(top-MT)+"px";root.appendChild(svg);
}
panel("100m",pts100,[-21.4,-.28],[-5,-10,-15,-20],[-2.5,-7.5,-12.5,-17.5],74.5,76,false);
panel("800m",pts800,[-24.34,-7.79],[-8,-12,-16,-20,-24],[-10,-14,-18,-22],434.5,76,false);
panel("1600m",pts1600,[-23.13,-8.03],[-12,-16,-20],[-10,-14,-18,-22],794.5,76,true);
panel("High Jump",ptsHigh,[6.77,31.18],[10,15,20,25,30],[7.5,12.5,17.5,22.5,27.5],74.5,431,true);
panel("Pole Vault",ptsPole,[-2.49,52.67],[0,10,20,30,40,50],[5,15,25,35,45],434.5,431,true);

txt(title,"left:74px;top:2px;font-size:25px;letter-spacing:.9px;line-height:30px;");
txt(xLabel,"left:402px;top:768px;font-size:20.5px;letter-spacing:.8px;line-height:24px;");
txt(yLabel,"left:22px;top:408px;font-size:20.5px;letter-spacing:1px;line-height:24px;transform:translate(-50%,-50%) rotate(-90deg);");
txt("Year","left:1140px;top:302px;font-size:21px;letter-spacing:1px;line-height:26px;");

const legend=Plot.plot({width:110,height:195.6,marginLeft:0,marginRight:74.3,marginTop:10,marginBottom:10,
  style:{fontFamily:"Liberation Sans",background:"transparent",letterSpacing:".5px"},
  x:{domain:[0,1],axis:null},y:{domain:[1978.6,2019],axis:null},color:yearColor,
  marks:[
    Plot.rect(legendYears,{x1:()=>0,x2:()=>1,y1:d=>d,y2:d=>d+1.4,fill:d=>d,clip:true}),
    Plot.ruleY(legendTicks,{x1:()=>0,x2:()=>.2,stroke:"#fff",strokeWidth:.8}),
    Plot.ruleY(legendTicks,{x1:()=>.8,x2:()=>1,stroke:"#fff",strokeWidth:.8}),
    Plot.axisY(legendTicks,{anchor:"right",label:null,tickSize:0,tickPadding:11,fill:"#333",fontSize:16.5,tickFormat:String})
  ]});
legend.style.left="1140px";legend.style.top="326.7px";root.appendChild(legend);
</script></body></html>
